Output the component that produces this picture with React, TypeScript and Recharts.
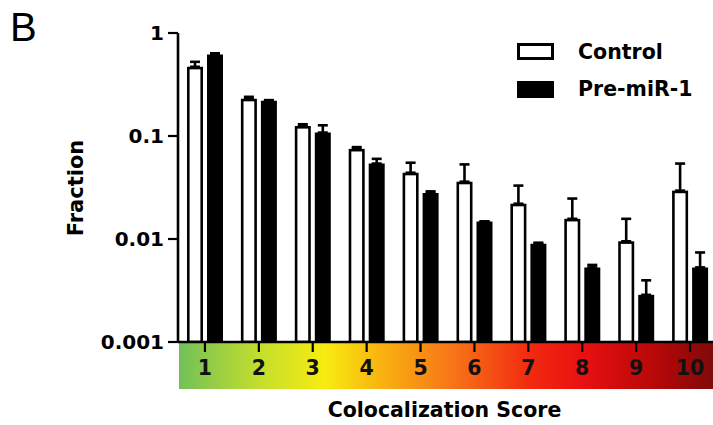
import React from 'react';
import { BarChart, Bar, XAxis, YAxis, ErrorBar, Legend } from 'recharts';

const categories = ['1', '2', '3', '4', '5', '6', '7', '8', '9', '10'];
const controlValues = [0.47, 0.23, 0.125, 0.075, 0.044, 0.036, 0.022, 0.0157, 0.0095, 0.0295];
const controlErrors = [0.055, 0.01, 0.005, 0.003, 0.011, 0.017, 0.011, 0.009, 0.0062, 0.0245];
const preValues = [0.62, 0.22, 0.108, 0.054, 0.028, 0.0148, 0.009, 0.0053, 0.00287, 0.0053];
const preErrors = [0.015, 0.003, 0.019, 0.006, 0.001, 0, 0.0002, 0.0003, 0.0011, 0.0021];
const yTicks = [0.001, 0.01, 0.1, 1];
const seriesNames = { control: 'Control', pre: 'Pre-miR-1' };

const data = categories.map((c, i) => ({
  score: c,
  control: controlValues[i],
  controlErr: [0, controlErrors[i]],
  pre: preValues[i],
  preErr: [0, preErrors[i]],
}));

const FONT = '"DejaVu Sans", Arial, sans-serif';

const OutlinedBar = (props: any) => {
  const { x, y, width, height } = props;
  const sw = 2.6;
  if (width == null || height == null) return null;
  return (
    <rect
      x={x + sw / 2}
      y={y + sw / 2}
      width={Math.max(width - sw, 0)}
      height={Math.max(height - sw / 2, 0)}
      fill="#ffffff"
      stroke="#000000"
      strokeWidth={sw}
    />
  );
};

const FractionLabel = (props: any) => {
  const vb = props.viewBox || { x: 0, y: 33, width: 178, height: 309 };
  const cx = vb.x + 83;
  const cy = vb.y + vb.height / 2 + 0.5;
  return (
    <text
      x={cx}
      y={cy}
      transform={`rotate(-90 ${cx} ${cy})`}
      textAnchor="middle"
      fontFamily={FONT}
      fontWeight="bold"
      fontSize={21}
      fill="#000"
    >
      Fraction
    </text>
  );
};

const ScoreLabel = (props: any) => {
  const vb = props.viewBox || { x: 178, y: 342, width: 539, height: 83 };
  const cx = vb.x + vb.width / 2 - 3;
  const cy = vb.y + vb.height - 8;
  return (
    <text x={cx} y={cy} textAnchor="middle" fontFamily={FONT} fontWeight="bold" fontSize={20.5} fill="#000">
      Colocalization Score
    </text>
  );
};

const LegendContent = (props: any) => {
  const payload = props.payload || [];
  return (
    <div>
      {payload.map((item: any) => {
        const isControl = item.dataKey === 'control';
        return (
          <div
            key={item.dataKey}
            style={{ display: 'flex', alignItems: 'center', height: 37.5 }}
          >
            <div
              style={{
                boxSizing: 'border-box',
                width: 37,
                height: 17,
                background: isControl ? '#fff' : '#000',
                border: '3px solid #000',
                marginRight: 24,
              }}
            />
            <span
              style={{
                fontFamily: FONT,
                fontWeight: 'bold',
                fontSize: 20.5,
                lineHeight: 1,
                color: '#000',
                whiteSpace: 'nowrap',
              }}
            >
              {item.value}
            </span>
          </div>
        );
      })}
    </div>
  );
};

export default function App() {
  return (
    <div
      style={{
        position: 'fixed',
        left: 0,
        top: 0,
        width: 713,
        height: 425,
        overflow: 'hidden',
        background: '#ffffff',
      }}
    >
      <div
        style={{
          position: 'absolute',
          left: 179,
          top: 342,
          width: 540,
          height: 46.5,
          background:
            'linear-gradient(to right, #72c05a 0%, #c4de2c 15%, #f8ec10 27%, #f8b010 38%, #f77818 50%, #f22a10 65%, #e81010 75%, #b80808 88%, #7a0a0a 100%)',
        }}
      />
      <div
        style={{
          position: 'absolute',
          left: 10,
          top: 5,
          fontFamily: '"Liberation Sans", Arial, sans-serif',
          fontSize: 40,
          color: '#000',
        }}
      >
        B
      </div>
      <div style={{ position: 'absolute', left: 0, top: 0 }}>
        <BarChart
          width={720}
          height={425}
          data={data}
          margin={{ top: 33, right: 3, bottom: 0, left: 0 }}
          barSize={16}
          barGap={4}
        >
          <XAxis
            dataKey="score"
            height={83}
            axisLine={{ stroke: '#000', strokeWidth: 2.6 }}
            tickLine={{ stroke: '#000', strokeWidth: 2.2 }}
            tickSize={10}
            tickMargin={8}
            tick={{ fontFamily: FONT, fontWeight: 'bold', fontSize: 20.5, fill: '#111' }}
            label={<ScoreLabel />}
          />
          <YAxis
            scale="log"
            domain={[0.001, 1]}
            allowDataOverflow
            ticks={yTicks}
            width={178}
            axisLine={{ stroke: '#000', strokeWidth: 2.6 }}
            tickLine={{ stroke: '#000', strokeWidth: 2.2 }}
            tickSize={10}
            tickMargin={4}
            tick={{ fontFamily: FONT, fontWeight: 'bold', fontSize: 20, fill: '#000' }}
            label={<FractionLabel />}
          />
          <Legend
            layout="vertical"
            align="center"
            verticalAlign="middle"
            wrapperStyle={{ left: 517, top: 33, width: 200 }}
            content={<LegendContent />}
          />
          <Bar
            dataKey="control"
            name={seriesNames.control}
            fill="#ffffff"
            stroke="#000000"
            shape={<OutlinedBar />}
            isAnimationActive={false}
          >
            <ErrorBar dataKey="controlErr" direction="y" width={5} stroke="#000" strokeWidth={2.6} />
          </Bar>
          <Bar dataKey="pre" name={seriesNames.pre} fill="#000000" isAnimationActive={false}>
            <ErrorBar dataKey="preErr" direction="y" width={5} stroke="#000" strokeWidth={2.6} />
          </Bar>
        </BarChart>
      </div>
    </div>
  );
}
